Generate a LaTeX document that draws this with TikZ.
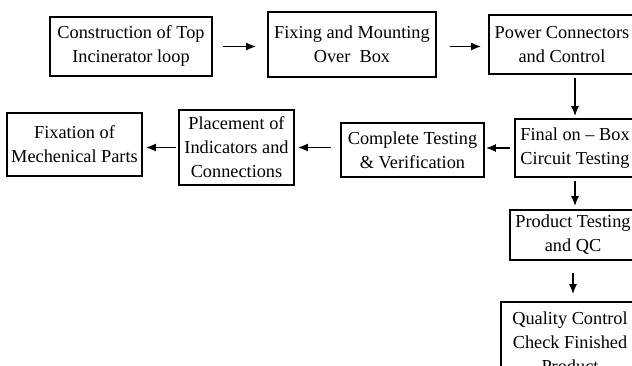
\documentclass[tikz,border=0pt]{standalone}
\usepackage{fontspec}
\setmainfont{Liberation Serif}
\usetikzlibrary{arrows.meta,positioning}

\begin{document}
\begin{tikzpicture}[x=1pt,y=-1pt,>={Latex[length=10pt,width=8pt]},
  stage/.style={draw,line width=1.6pt,inner sep=0pt,align=center,font=\fontsize{18.3}{24}\selectfont},
  flow/.style={->,line width=1.7pt}]
\clip (0,0) rectangle (632,365);
% top row
\node[stage,minimum width=162,minimum height=59] (loop) at (131,46.5) {Construction of Top\\Incinerator loop};
\node[stage,minimum width=168,minimum height=65] (mount) at (352,44.5) {Fixing and Mounting\\Over \ Box};
\node[stage,minimum width=146,minimum height=59] (power) at (562,44.5) {Power Connectors\\and Control};
% middle row
\node[stage,minimum width=120,minimum height=58] (final) at (575,148) {Final on -- Box\\Circuit Testing};
\node[stage,minimum width=143,minimum height=54] (complete) at (412.5,150) {Complete Testing\\\& Verification};
\node[stage,minimum width=115,minimum height=75] (placement) at (236.5,147.5) {Placement of\\Indicators and\\Connections};
\node[stage,minimum width=135,minimum height=63] (fixation) at (74.5,144.5) {Fixation of\\Mechenical Parts};
% right column
\node[stage,minimum width=126,minimum height=50] (product) at (573,235) {Product Testing\\and QC};
\node[stage,minimum width=138,minimum height=80] (quality) at (570,342) {Quality Control\\Check Finished\\Product};
% arrows
\draw[flow,shorten <=10pt,shorten >=11pt] (loop.east) -- (loop.east -| mount.west);
\draw[flow,shorten <=13pt,shorten >=7pt] (loop.east -| mount.east) -- (loop.east -| power.west);
\draw[flow,shorten <=3pt,shorten >=2pt] (final.north |- power.south) -- (final.north);
\draw[flow,shorten <=4pt,shorten >=1pt] (final.west) -- (final.west -| complete.east);
\draw[flow,shorten <=9pt,shorten >=3pt] (placement.east -| complete.west) -- (placement.east);
\draw[flow,shorten <=2pt,shorten >=3pt] (placement.west) -- (placement.west -| fixation.east);
\draw[flow,shorten <=3pt,shorten >=3pt] (final.south) -- (final.south |- product.north);
\draw[flow,shorten <=12pt,shorten >=7pt] (product.south) -- (product.south |- quality.north);
\end{tikzpicture}
\end{document}
